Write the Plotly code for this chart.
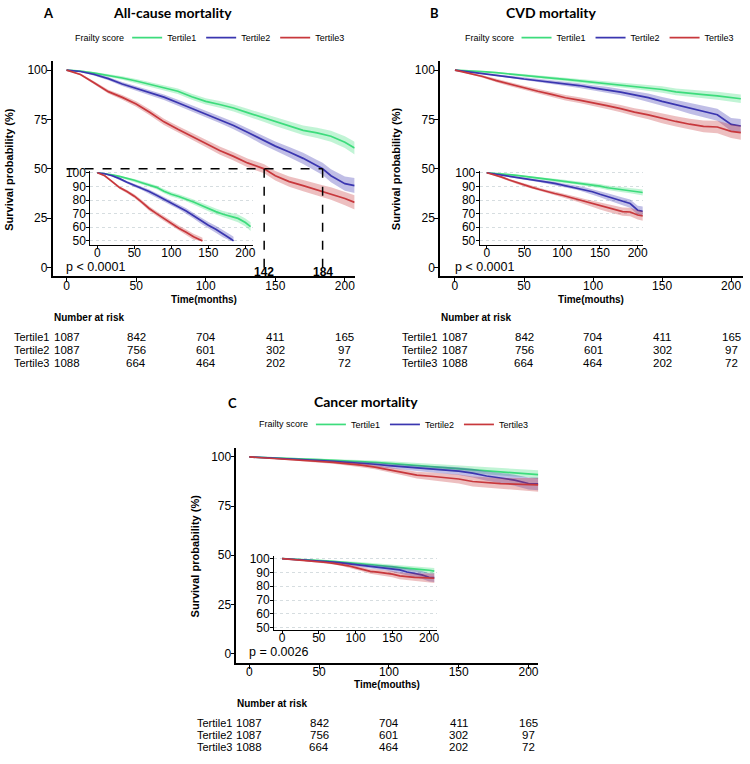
import plotly.graph_objects as go

# ---------------- DATA ----------------
GROUPS = ["Tertile1", "Tertile2", "Tertile3"]

# Panel A: all-cause mortality (survival %)
T_A = [0, 10, 20, 30, 40, 50, 60, 70, 80, 90, 100, 110, 120, 130, 140, 142, 150, 160, 170, 180, 184, 190, 200, 207]
A_T1 = [100, 99.5, 98.5, 97.3, 96, 94.5, 92.7, 91, 89.3, 86.5, 84.2, 82.6, 80.8, 78.5, 76.2, 75.7, 73.8, 71.5, 69.5, 68.2, 67.6, 66.5, 63.5, 60.5]
A_T2 = [100, 99.3, 97.8, 95.7, 93, 90.8, 88.7, 86.3, 83.5, 80.6, 77.7, 75, 72, 68.5, 64.8, 64.2, 61.5, 58.5, 55.3, 51.5, 50.0, 46.5, 42.5, 41.5]
A_T3 = [100, 97.8, 93.5, 89.1, 86.2, 82.8, 78.5, 73.8, 70, 66.4, 62.9, 59.3, 56.3, 53, 50.5, 50.0, 46.5, 43.5, 41.5, 39.3, 38.6, 37.5, 35, 33]
A_CI1 = [0, .3, .5, .7, .9, 1, 1.2, 1.3, 1.4, 1.5, 1.6, 1.7, 1.8, 1.9, 2, 2, 2.1, 2.2, 2.4, 2.6, 2.7, 2.8, 3.0, 3.2]
A_CI2 = [0, .3, .6, .8, 1, 1.2, 1.3, 1.4, 1.5, 1.6, 1.7, 1.8, 1.9, 2, 2.2, 2.2, 2.4, 2.6, 2.8, 3.0, 3.1, 3.3, 3.6, 3.8]
A_CI3 = [0, .5, .8, 1, 1.2, 1.4, 1.5, 1.6, 1.7, 1.8, 1.9, 2, 2.1, 2.2, 2.3, 2.3, 2.4, 2.6, 2.8, 3.0, 3.1, 3.2, 3.4, 3.6]
A_MEDIANS = [142, 184]

# Panel B: CVD mortality
T_BC = [0, 10, 20, 30, 40, 50, 60, 70, 80, 90, 100, 110, 120, 130, 140, 150, 160, 170, 180, 190, 200, 207]
B_T1 = [100, 99.7, 99.2, 98.7, 98.1, 97.5, 96.8, 96, 95.3, 94.6, 93.9, 93.2, 92.5, 91.8, 91.1, 90.2, 89, 88.2, 87.6, 87, 86.2, 85.5]
B_T2 = [100, 99.2, 98.2, 97.3, 96.5, 95.5, 94.7, 94, 93.1, 92.2, 91, 90.1, 88.9, 87.5, 86.1, 84.2, 82.5, 80.5, 79, 77.4, 72.5, 71.7]
B_T3 = [100, 98.5, 96.8, 94.7, 92.8, 91, 89.3, 87.7, 86, 84.8, 83.5, 82, 80.5, 78.7, 77.3, 75.5, 74, 72.6, 71.5, 71.2, 69, 68.3]
B_CI1 = [0, .2, .3, .4, .5, .6, .7, .8, .9, 1, 1.1, 1.2, 1.3, 1.4, 1.5, 1.6, 1.7, 1.8, 1.9, 2, 2.1, 2.2]
B_CI2 = [0, .3, .5, .6, .7, .8, .9, 1, 1.1, 1.2, 1.3, 1.5, 1.6, 1.8, 2, 2.2, 2.4, 2.6, 2.8, 3, 3.3, 3.5]
B_CI3 = [0, .4, .6, .8, 1, 1.1, 1.2, 1.3, 1.4, 1.5, 1.6, 1.7, 1.8, 2, 2.2, 2.4, 2.6, 2.8, 3, 3.2, 3.4, 3.6]

# Panel C: cancer mortality
C_T1 = [100, 99.8, 99.5, 99.2, 98.9, 98.6, 98.3, 98, 97.6, 97.2, 96.7, 96.2, 95.7, 95.2, 94.6, 94, 93.5, 92.9, 92.5, 92, 91.6, 91]
C_T2 = [100, 99.7, 99.4, 99.0, 98.6, 98.2, 97.8, 97.4, 96.9, 96.3, 95.6, 95, 94.4, 93.8, 93.3, 92.8, 91.8, 90.3, 89.3, 88.2, 86.5, 86.3]
C_T3 = [100, 99.6, 99.2, 98.7, 98.2, 97.7, 97.2, 96.6, 95.8, 94.8, 93.5, 92.2, 90.8, 90.2, 89.5, 88.8, 87.5, 86.8, 86.4, 86.2, 86, 85.8]
C_CI1 = [0, .2, .3, .4, .5, .6, .7, .8, .9, 1, 1.1, 1.2, 1.3, 1.4, 1.5, 1.6, 1.7, 1.8, 1.9, 2, 2.1, 2.2]
C_CI2 = [0, .2, .3, .4, .5, .6, .7, .8, .9, 1, 1.1, 1.2, 1.4, 1.6, 1.8, 2, 2.2, 2.4, 2.6, 2.8, 3, 3.2]
C_CI3 = [0, .2, .3, .4, .5, .6, .7, .8, 1, 1.1, 1.3, 1.5, 1.7, 1.9, 2.1, 2.3, 2.5, 2.7, 2.9, 3.1, 3.3, 3.5]

# Number at risk (identical in all three panels)
RISK_TIMES = [0, 50, 100, 150, 200]
RISK_T1 = [1087, 842, 704, 411, 165]
RISK_T2 = [1087, 756, 601, 302, 97]
RISK_T3 = [1088, 664, 464, 202, 72]

X_TICKS = [0, 50, 100, 150, 200]
Y_TICKS_MAIN = [0, 25, 50, 75, 100]
Y_TICKS_INSET = [50, 60, 70, 80, 90, 100]

# ---------------- STYLE ----------------
LINE_COLORS = ["#3ddc7c", "#3a36b0", "#c8383c"]
FILL_COLORS = ["rgba(61,220,124,0.32)", "rgba(58,54,176,0.32)", "rgba(200,56,60,0.32)"]
FONT = "Liberation Sans, Arial, sans-serif"
TITLE_FONT = "Lato, Open Sans, sans-serif"
W, H = 750, 764


def px(x):
    return x / W


def py(y):
    return 1 - y / H


fig = go.Figure()


def add_curves(times, series, cis, xa, ya, inset=False, legend=None):
    for i, (s, ci) in enumerate(zip(series, cis)):
        t = list(times)
        v = list(s)
        c = list(ci)
        if inset:
            keep = [k for k in range(len(v)) if v[k] >= 50]
            t = [t[k] for k in keep]
            v = [v[k] for k in keep]
            c = [c[k] for k in keep]
        up = [a + b for a, b in zip(v, c)]
        lo = [max(a - b, 50 if inset else 0) for a, b in zip(v, c)]
        fig.add_trace(go.Scatter(
            x=t + t[::-1], y=up + lo[::-1], fill="toself", fillcolor=FILL_COLORS[i],
            line=dict(width=0), mode="lines", hoverinfo="skip", showlegend=False,
            xaxis=xa, yaxis=ya))
        fig.add_trace(go.Scatter(
            x=t, y=v, mode="lines", line=dict(color=LINE_COLORS[i], width=1.7),
            name=GROUPS[i], showlegend=(legend is not None and not inset),
            legend=legend if legend else "legend",
            xaxis=xa, yaxis=ya))


# Panel A
add_curves(T_A, [A_T1, A_T2, A_T3], [A_CI1, A_CI2, A_CI3], "x", "y", legend="legend")
add_curves(T_A, [A_T1, A_T2, A_T3], [A_CI1, A_CI2, A_CI3], "x2", "y2", inset=True)
# median lines
fig.add_trace(go.Scatter(x=[0, max(A_MEDIANS)], y=[50, 50], mode="lines",
                         line=dict(color="black", width=1.5, dash="dash"),
                         showlegend=False, hoverinfo="skip", xaxis="x", yaxis="y"))
for m in A_MEDIANS:
    fig.add_trace(go.Scatter(x=[m, m], y=[50, -4.5], mode="lines",
                             line=dict(color="black", width=1.5, dash="dash"),
                             showlegend=False, hoverinfo="skip", xaxis="x", yaxis="y"))

# Panel B
add_curves(T_BC, [B_T1, B_T2, B_T3], [B_CI1, B_CI2, B_CI3], "x3", "y3", legend="legend2")
add_curves(T_BC, [B_T1, B_T2, B_T3], [B_CI1, B_CI2, B_CI3], "x4", "y4", inset=True)

# Panel C
add_curves(T_BC, [C_T1, C_T2, C_T3], [C_CI1, C_CI2, C_CI3], "x5", "y5", legend="legend3")
add_curves(T_BC, [C_T1, C_T2, C_T3], [C_CI1, C_CI2, C_CI3], "x6", "y6", inset=True)


def axis(dom, rng, anchor, tickvals, lw, tl, standoff, grid=False):
    d = dict(domain=dom, range=rng, anchor=anchor, tickvals=tickvals, ticks="outside",
             ticklen=tl, tickwidth=1.1, tickcolor="black", showline=True, linecolor="black",
             linewidth=lw, showgrid=grid, zeroline=False, ticklabelstandoff=standoff,
             tickfont=dict(family=FONT, size=12, color="black"))
    if grid:
        d.update(gridcolor="#d6dde0", griddash="dot", gridwidth=1)
    return d


MAIN_Y_AB = [py(275), py(57)]
INSET_Y_AB = [py(243), py(168)]

layout = dict(
    width=W, height=H, margin=dict(l=0, r=0, t=0, b=0),
    paper_bgcolor="white", plot_bgcolor="rgba(0,0,0,0)",
    font=dict(family=FONT, color="black"),
    xaxis=axis([px(53), px(357)], [-10, 207], "y", X_TICKS, 1.6, 4, -7),
    yaxis=axis(MAIN_Y_AB, [-4.5, 104.5], "x", Y_TICKS_MAIN, 1.6, 4, -3),
    xaxis2=axis([px(91), px(255)], [-9.4, 210.7], "y2", X_TICKS, 1.2, 3, -6),
    yaxis2=axis(INSET_Y_AB, [47.1, 101.45], "x2", Y_TICKS_INSET, 1.2, 3, -2, grid=True),
    xaxis3=axis([px(443), px(748)], [-10.8, 208.6], "y3", X_TICKS, 1.6, 4, -7),
    yaxis3=axis(MAIN_Y_AB, [-4.5, 104.5], "x3", Y_TICKS_MAIN, 1.6, 4, -3),
    xaxis4=axis([px(483), px(647)], [-9.2, 206.6], "y4", X_TICKS, 1.2, 3, -6),
    yaxis4=axis(INSET_Y_AB, [47.1, 101.45], "x4", Y_TICKS_INSET, 1.2, 3, -2, grid=True),
    xaxis5=axis([px(238), px(542)], [-9.25, 207.1], "y5", X_TICKS, 1.6, 4, -7),
    yaxis5=axis([py(667), py(449)], [-5, 104.5], "x5", Y_TICKS_MAIN, 1.6, 4, -3),
    xaxis6=axis([px(276), px(440)], [-10.8, 210.8], "y6", X_TICKS, 1.2, 3, -6),
    yaxis6=axis([py(633), py(558)], [48.6, 102.1], "x6", Y_TICKS_INSET, 1.2, 3, -2, grid=True),
)

leg_common = dict(orientation="h", xanchor="left", yanchor="middle",
                  font=dict(family=FONT, size=9, color="black"),
                  bgcolor="rgba(0,0,0,0)", itemwidth=30, tracegroupgap=0)
layout["legend"] = dict(leg_common, x=px(128), y=py(33))
layout["legend2"] = dict(leg_common, x=px(520), y=py(33))
layout["legend3"] = dict(leg_common, x=px(313), y=py(425))
fig.update_layout(**layout)

ann = []


def txt(x, y, s, size=12, bold=False, xanchor="center", xref="paper", yref="paper",
        family=FONT, angle=0):
    ann.append(dict(x=x, y=y, xref=xref, yref=yref, text=f"<b>{s}</b>" if bold else s,
                    showarrow=False, xanchor=xanchor, yanchor="middle", textangle=angle,
                    borderpad=0,
                    font=dict(family=family, size=size, color="black")))


# Titles
txt(px(49), py(8), "A", size=13, bold=True, family=TITLE_FONT)
txt(px(174), py(8), "All-cause mortality", size=14, bold=True, family=TITLE_FONT)
txt(px(437), py(8), "B", size=13, bold=True, family=TITLE_FONT)
txt(px(555), py(8), "CVD mortality", size=14, bold=True, family=TITLE_FONT)
txt(px(234), py(403), "C", size=13, bold=True, family=TITLE_FONT)
txt(px(368), py(402), "Cancer mortality", size=14, bold=True, family=TITLE_FONT)

# Legend titles
txt(px(126), py(33), "Frailty score", size=9, xanchor="right")
txt(px(518), py(33), "Frailty score", size=9, xanchor="right")
txt(px(311), py(425), "Frailty score", size=9, xanchor="right")

# Axis titles
txt(px(9), py(166), "Survival probability (%)", size=11, bold=True, angle=-90)
txt(px(398), py(166), "Survival probability (%)", size=11, bold=True, angle=-90)
txt(px(196), py(558), "Survival probability (%)", size=11, bold=True, angle=-90)
txt(px(205), py(298), "Time(months)", size=10, bold=True)
txt(px(595), py(298), "Time(mouths)", size=10, bold=True)
txt(px(390), py(688.5), "Time(mouths)", size=10, bold=True)

# p-values
txt(-1, 0.5, "p < 0.0001", size=12.5, xanchor="left", xref="x", yref="y")
txt(-1, 0.5, "p < 0.0001", size=12.5, xanchor="left", xref="x3", yref="y3")
txt(-1, 0.5, "p = 0.0026", size=12.5, xanchor="left", xref="x5", yref="y5")

# Median labels
for m in A_MEDIANS:
    txt(m, -2.5, str(m), size=12, bold=True, xref="x", yref="y")


# Risk tables
def risk_table(xref, label_right_px, head_y, row_ys, head_x):
    txt(px(head_x), py(head_y), "Number at risk", size=10, bold=True, xanchor="left")
    for g, vals, ry in zip(GROUPS, [RISK_T1, RISK_T2, RISK_T3], row_ys):
        txt(px(label_right_px), py(ry), g, size=11, xanchor="right")
        for t, v in zip(RISK_TIMES, vals):
            txt(t, py(ry), str(v), size=11.5, xref=xref)


risk_table("x", 50, 317, [336, 349.5, 363], 53)
risk_table("x3", 441, 317, [336, 349.5, 363], 443)
risk_table("x5", 235, 708, [728, 740, 752], 238)

fig.update_layout(annotations=ann)
fig.write_html("out.html")
